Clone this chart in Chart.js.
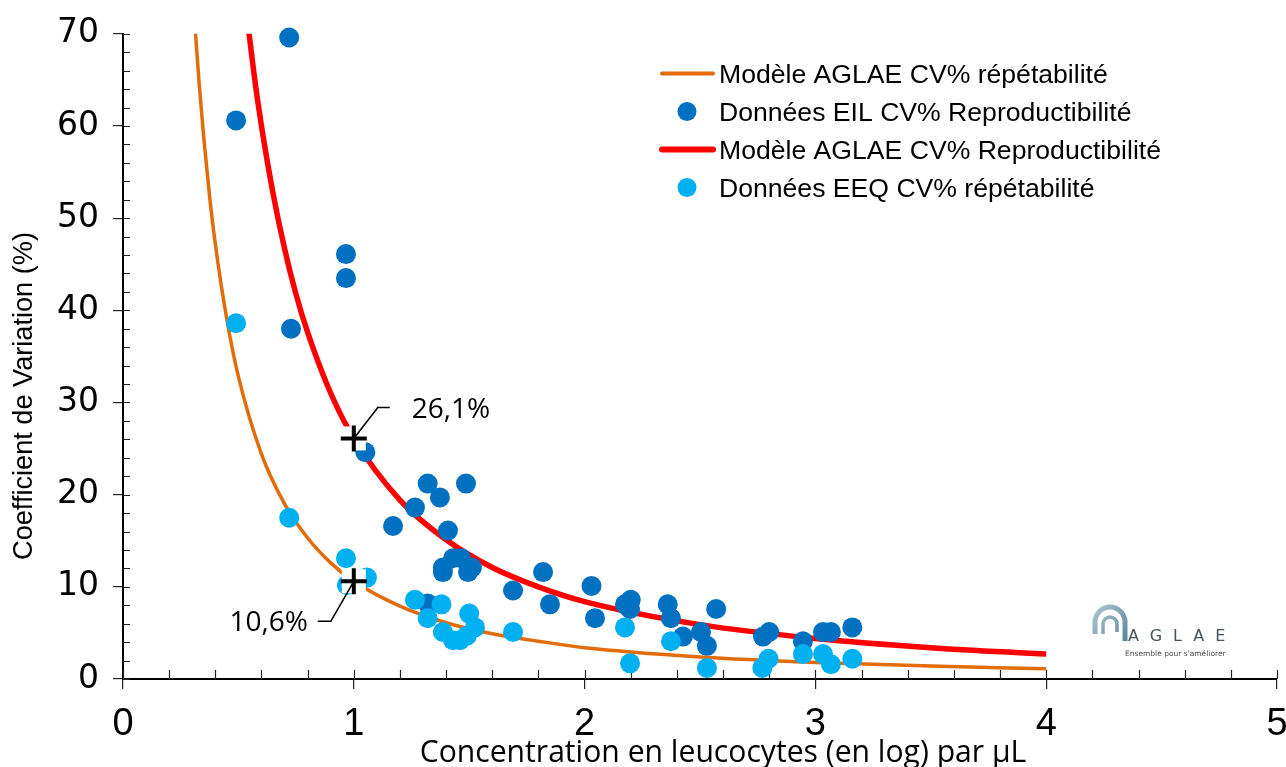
<!DOCTYPE html>
<html>
<head>
<meta charset="utf-8">
<script src="https://cdn.jsdelivr.net/npm/chart.js@4.4.1/dist/chart.umd.min.js"></script>
<style>
html,body{margin:0;padding:0;background:#ffffff;}
#wrap{width:1286px;height:767px;position:relative;}
canvas{display:block;}
</style>
</head>
<body>
<div id="wrap"><canvas id="c" width="1286" height="767" style="width:1286px;height:767px"></canvas></div>
<script>
// ---------- data ----------
const xTitle = 'Concentration en leucocytes (en log) par µL';
const yTitle = 'Coefficient de Variation (%)';
const seriesNames = [
  'Modèle AGLAE CV% répétabilité',
  'Données EIL CV% Reproductibilité',
  'Modèle AGLAE CV% Reproductibilité',
  'Données EEQ CV% répétabilité'
];
const xTicks = [0, 1, 2, 3, 4, 5];
const yTicks = [0, 10, 20, 30, 40, 50, 60, 70];

// Données EIL CV% Reproductibilité (dark blue dots)
const eilX = [0.72,0.49,0.966,0.966,0.728,1.05,1.32,1.486,1.373,1.265,1.17,1.408,1.43,1.465,1.386,1.386,1.512,1.495,1.32,1.69,1.82,1.85,2.03,2.045,2.175,2.20,2.197,2.36,2.374,2.426,2.504,2.53,2.57,2.773,2.80,2.946,3.033,3.067,3.16];
const eilY = [69.6,60.6,46.1,43.5,38.0,24.6,21.2,21.2,19.7,18.6,16.6,16.1,13.1,13.1,12.1,11.6,12.1,11.6,8.2,9.6,11.6,8.1,10.1,6.6,8.1,8.6,7.6,8.1,6.6,4.6,5.1,3.6,7.6,4.6,5.1,4.1,5.1,5.1,5.6];

// Données EEQ CV% répétabilité (light blue dots)
const eeqX = [0.49,0.72,0.966,0.97,1.057,1.265,1.38,1.32,1.50,1.386,1.525,1.43,1.46,1.49,1.69,2.175,2.197,2.374,2.53,2.77,2.797,2.946,3.033,3.067,3.16];
const eeqY = [38.6,17.5,13.1,10.2,11.0,8.6,8.1,6.6,7.1,5.1,5.6,4.2,4.2,4.7,5.1,5.6,1.7,4.1,1.2,1.2,2.2,2.7,2.7,1.6,2.2];

// Modèle AGLAE CV% répétabilité (orange curve)
const repetX = [0.31,0.33,0.35,0.375,0.4,0.45,0.5,0.6,0.7,0.8,0.9,1.0,1.2,1.4,1.6,1.8,2.0,2.5,3.0,3.5,4.0];
const repetY = [71.5,64.6,58.7,52.4,47.2,39.0,32.8,24.4,19.0,15.3,12.6,10.6,7.9,6.1,4.9,4.1,3.4,2.4,1.8,1.4,1.1];

// Modèle AGLAE CV% Reproductibilité (red curve)
const reproX = [0.54,0.57,0.6,0.65,0.7,0.75,0.8,0.9,1.0,1.2,1.4,1.6,1.8,2.0,2.5,3.0,3.5,4.0];
const reproY = [71.3,65.2,60.0,52.7,46.7,41.7,37.6,31.0,26.1,19.4,15.1,12.1,10.0,8.4,5.9,4.4,3.4,2.7];

// annotated model values at log = 1
const markerX = [1, 1];
const markerY = [26.1, 10.6];
const markerLabels = ['26,1%', '10,6%'];

// ---------- styles ----------
const C_ORANGE = '#E36C0A';
const C_RED = '#FF0000';
const C_DARK = '#0070C0';
const C_LIGHT = '#00B0F0';

const pts = (xs, ys) => xs.map((x, i) => ({ x: x, y: ys[i] }));

// minor ticks drawn inside the axes + x tick labels
const axisDecor = {
  id: 'axisDecor',
  beforeDatasetsDraw(chart) {
    const { ctx, scales: { x, y } } = chart;
    ctx.save();
    ctx.strokeStyle = '#222';
    ctx.lineWidth = 1.2;
    const y0 = y.getPixelForValue(0);
    const x0 = x.getPixelForValue(0);
    ctx.beginPath();
    for (let v = 0; v <= 5.0001; v += 0.2) {
      const px = Math.round(x.getPixelForValue(v)) + 0.5;
      ctx.moveTo(px, y0);
      ctx.lineTo(px, y0 - 9);
    }
    for (let v = 0; v <= 70.0001; v += 2) {
      const py = Math.round(y.getPixelForValue(v)) + 0.5;
      ctx.moveTo(x0, py);
      ctx.lineTo(x0 + 7, py);
    }
    ctx.stroke();
    // x tick labels
    ctx.fillStyle = '#000';
    ctx.font = '38px "Liberation Sans", Arial, sans-serif';
    ctx.textAlign = 'center';
    ctx.textBaseline = 'alphabetic';
    xTicks.forEach(v => {
      ctx.fillText(String(v), x.getPixelForValue(v), y0 + 56);
    });
    ctx.restore();
  }
};

// leader lines + labels for the two model values
const leaderGeom = [
  { path: [[0, 0], [24, -31], [36, -31]], dx: 22, dy: 11, align: 'left' },
  { path: [[0, 0], [-23, 40], [-36, 40]], dx: -10, dy: 10, align: 'right' }
];
const annotations = {
  id: 'annotations',
  afterDatasetsDraw(chart) {
    const { ctx, scales: { x, y } } = chart;
    ctx.save();
    markerX.forEach((mx, i) => {
      const px = x.getPixelForValue(mx);
      const py = y.getPixelForValue(markerY[i]);
      const g = leaderGeom[i];
      ctx.strokeStyle = '#000';
      ctx.lineWidth = 1.6;
      ctx.beginPath();
      g.path.forEach((p, k) => {
        if (k === 0) ctx.moveTo(px + p[0], py + p[1]);
        else ctx.lineTo(px + p[0], py + p[1]);
      });
      ctx.stroke();
      const end = g.path[g.path.length - 1];
      ctx.fillStyle = '#000';
      ctx.font = '28px "Open Sans", sans-serif';
      ctx.textAlign = g.align;
      ctx.textBaseline = 'alphabetic';
      ctx.fillText(markerLabels[i], px + end[0] + g.dx, py + end[1] + g.dy);
    });
    ctx.restore();
  }
};

// legend inside the plot (top right)
const legendPlugin = {
  id: 'customLegend',
  afterDraw(chart) {
    const { ctx } = chart;
    const items = [
      { label: seriesNames[0], kind: 'line', color: C_ORANGE, w: 4 },
      { label: seriesNames[1], kind: 'dot', color: C_DARK },
      { label: seriesNames[2], kind: 'line', color: C_RED, w: 6 },
      { label: seriesNames[3], kind: 'dot', color: C_LIGHT }
    ];
    ctx.save();
    items.forEach((it, i) => {
      const cy = 73.5 + i * 38;
      if (it.kind === 'line') {
        ctx.strokeStyle = it.color;
        ctx.lineWidth = it.w;
        ctx.lineCap = 'round';
        ctx.beginPath();
        ctx.moveTo(662, cy);
        ctx.lineTo(713, cy);
        ctx.stroke();
      } else {
        ctx.fillStyle = it.color;
        ctx.beginPath();
        ctx.arc(687, cy, 9.5, 0, Math.PI * 2);
        ctx.fill();
      }
      ctx.fillStyle = '#000';
      ctx.font = '26.6px "Liberation Sans", Arial, sans-serif';
      ctx.textAlign = 'left';
      ctx.textBaseline = 'alphabetic';
      ctx.fillText(it.label, 719, cy + 9.5);
    });
    ctx.restore();
  }
};

// axis titles
function fitFont(ctx, text, family, target) {
  ctx.font = '20px ' + family;
  const w = ctx.measureText(text).width;
  return 20 * target / w;
}
const axisTitles = {
  id: 'axisTitles',
  afterDraw(chart) {
    const { ctx } = chart;
    ctx.save();
    ctx.fillStyle = '#000';
    // x title
    const fx = fitFont(ctx, xTitle, '"Open Sans", sans-serif', 607);
    ctx.font = fx.toFixed(2) + 'px "Open Sans", sans-serif';
    ctx.textAlign = 'center';
    ctx.textBaseline = 'alphabetic';
    ctx.fillText(xTitle, 723, 762);
    // y title
    const fy = fitFont(ctx, yTitle, '"Liberation Sans", Arial, sans-serif', 328);
    ctx.translate(32, 396);
    ctx.rotate(-Math.PI / 2);
    ctx.font = fy.toFixed(2) + 'px "Liberation Sans", Arial, sans-serif';
    ctx.textAlign = 'center';
    ctx.textBaseline = 'alphabetic';
    ctx.fillText(yTitle, 0, 0);
    ctx.restore();
  }
};

// small AGLAE logo
const logo = {
  id: 'logo',
  afterDraw(chart) {
    const { ctx } = chart;
    ctx.save();
    const g = ctx.createLinearGradient(1090, 605, 1135, 640);
    g.addColorStop(0, '#b4cdd6');
    g.addColorStop(1, '#4d7d8f');
    ctx.strokeStyle = g;
    ctx.lineCap = 'butt';
    ctx.lineWidth = 5;
    ctx.beginPath();
    ctx.moveTo(1095, 634);
    ctx.lineTo(1095, 622);
    ctx.arc(1110, 622, 15, Math.PI, 0);
    ctx.lineTo(1125, 641);
    ctx.stroke();
    ctx.lineWidth = 3.5;
    ctx.beginPath();
    ctx.moveTo(1103, 634);
    ctx.lineTo(1103, 624);
    ctx.arc(1110, 624, 7, Math.PI, 0);
    ctx.lineTo(1117, 632);
    ctx.stroke();
    ctx.fillStyle = '#45535b';
    ctx.font = '16px "DejaVu Sans", sans-serif';
    ctx.textAlign = 'left';
    ctx.textBaseline = 'alphabetic';
    try { ctx.letterSpacing = '11px'; } catch (e) {}
    ctx.fillText('AGLAE', 1128, 641);
    try { ctx.letterSpacing = '0px'; } catch (e) {}
    ctx.fillStyle = '#4a4a4a';
    ctx.font = '7.5px "DejaVu Sans", sans-serif';
    ctx.fillText("Ensemble pour s'améliorer", 1125, 656);
    ctx.restore();
  }
};

const chart = new Chart(document.getElementById('c').getContext('2d'), {
  type: 'scatter',
  data: {
    datasets: [
      {
        label: seriesNames[0], data: pts(repetX, repetY), showLine: true,
        borderColor: C_ORANGE, borderWidth: 3.5, pointRadius: 0,
        cubicInterpolationMode: 'monotone', clip: 0, order: 6
      },
      {
        label: seriesNames[1], data: pts(eilX, eilY),
        backgroundColor: C_DARK, borderWidth: 0, pointRadius: 10, clip: false, order: 4
      },
      {
        label: seriesNames[2], data: pts(reproX, reproY), showLine: true,
        borderColor: C_RED, borderWidth: 5.5, pointRadius: 0,
        cubicInterpolationMode: 'monotone', clip: 0, order: 5
      },
      {
        label: seriesNames[3], data: pts(eeqX, eeqY),
        backgroundColor: C_LIGHT, borderWidth: 0, pointRadius: 10, clip: false, order: 3
      },
      {
        label: 'bg', data: pts(markerX, markerY), pointStyle: 'rect',
        backgroundColor: '#ffffff', borderWidth: 0, pointRadius: 17, clip: false, order: 2
      },
      {
        label: 'marker', data: pts(markerX, markerY), pointStyle: 'cross',
        borderColor: '#000000', borderWidth: 4, pointRadius: 13, clip: false, order: 1
      }
    ]
  },
  options: {
    responsive: false,
    animation: false,
    events: [],
    layout: { autoPadding: false, padding: { top: 31, right: 9, left: 0, bottom: 0 } },
    plugins: { legend: { display: false }, tooltip: { enabled: false }, title: { display: false } },
    scales: {
      x: {
        type: 'linear', min: 0, max: 5,
        afterFit(s) { s.height = 88; },
        afterBuildTicks(s) { s.ticks = xTicks.map(v => ({ value: v })); },
        ticks: { display: false, stepSize: 1, maxRotation: 0, autoSkip: false },
        grid: { display: true, drawOnChartArea: false, drawTicks: true, tickLength: 10, color: '#222', lineWidth: 1.2 },
        border: { display: true, color: '#000', width: 2 }
      },
      y: {
        type: 'linear', min: 0, max: 70,
        afterFit(s) { s.width = 123; },
        afterBuildTicks(s) { s.ticks = yTicks.map(v => ({ value: v })); },
        ticks: {
          stepSize: 10, autoSkip: false, padding: 14, color: '#000',
          font: { family: '"DejaVu Sans", sans-serif', size: 33 }
        },
        grid: { display: true, drawOnChartArea: false, drawTicks: true, tickLength: 10, color: '#222', lineWidth: 1.2 },
        border: { display: true, color: '#000', width: 2 }
      }
    }
  },
  plugins: [axisDecor, annotations, legendPlugin, axisTitles, logo]
});
</script>
</body>
</html>
